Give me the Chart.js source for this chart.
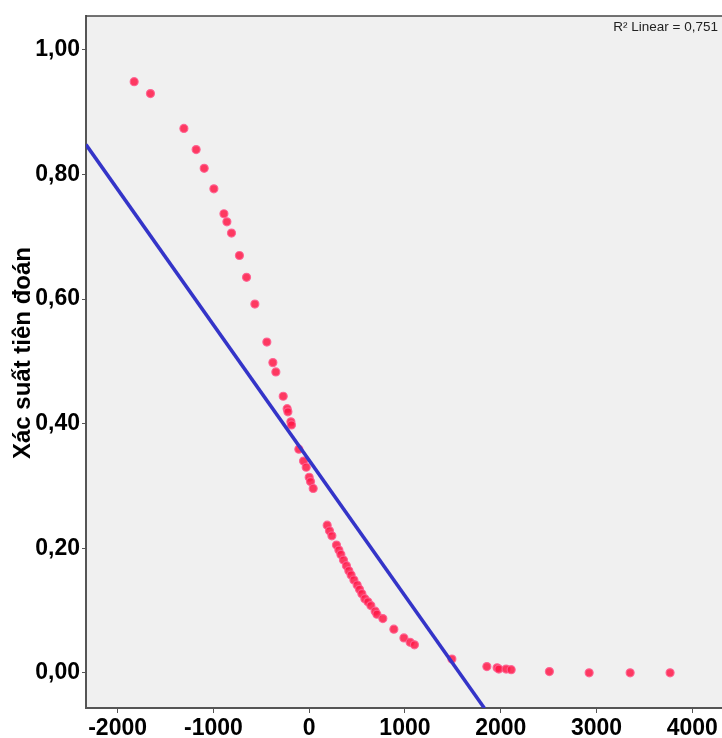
<!DOCTYPE html>
<html>
<head>
<meta charset="utf-8">
<script src="https://cdn.jsdelivr.net/npm/chart.js@4"></script>
<style>
  html, body { margin: 0; padding: 0; background: #fff; overflow: hidden; }
  #wrap { width: 722px; height: 738px; }
  canvas { display: block; }
</style>
</head>
<body>
<div id="wrap"><canvas id="prob-chart" width="722" height="738"></canvas></div>
<script>
// Tick labels
const xTicks = [-2000, -1000, 0, 1000, 2000, 3000, 4000];
const yTicks = [0, 0.2, 0.4, 0.6, 0.8, 1.0];

const probX = [-1827, -1657, -1308, -1180, -1096, -995, -890, -859, -811, -728,
    -654, -567, -442, -379, -348, -271, -230, -222, -191, -185,
    -108, -59, -31, 0, 14, 42, 188, 212, 237, 285,
    310, 331, 358, 389, 414, 438, 467, 501, 525, 550,
    581, 613, 644, 689, 707, 769, 884, 989, 1054, 1099,
    1490, 1855, 1962, 1980, 2056, 2109, 2508, 2923, 3351, 3768];
const probY = [0.949, 0.930, 0.874, 0.840, 0.810, 0.777, 0.737, 0.724, 0.706, 0.670,
    0.635, 0.592, 0.531, 0.498, 0.483, 0.444, 0.424, 0.419, 0.403, 0.398,
    0.359, 0.340, 0.330, 0.314, 0.307, 0.296, 0.237, 0.228, 0.220, 0.205,
    0.197, 0.190, 0.181, 0.172, 0.164, 0.157, 0.149, 0.141, 0.134, 0.127,
    0.119, 0.114, 0.108, 0.099, 0.094, 0.087, 0.070, 0.056, 0.049, 0.045,
    0.022, 0.010, 0.008, 0.006, 0.006, 0.005, 0.002, 0.000, 0.000, 0.000];

// Linear fit line end points
const fitX = [-2330, 1830];
const fitY = [0.848, -0.057];

const axisFont = { family: 'Arial, "Liberation Sans"', size: 23, weight: 'bold' };

// plot background, top frame line, R2 note and the y title
const decor = {
    id: 'decor',
    beforeDraw(chart) {
        const { ctx, chartArea: a } = chart;
        ctx.save();
        ctx.fillStyle = '#f0f0f0';
        ctx.fillRect(a.left, a.top, a.right - a.left, a.bottom - a.top);
        ctx.restore();
    },
    afterDraw(chart) {
        const { ctx, chartArea: a } = chart;
        ctx.save();
        ctx.strokeStyle = '#444';
        ctx.lineWidth = 1.5;
        ctx.beginPath();
        ctx.moveTo(a.left, a.top);
        ctx.lineTo(a.right, a.top);
        ctx.stroke();

        ctx.fillStyle = '#222';
        ctx.font = '13.5px Arial, "Liberation Sans"';
        ctx.textAlign = 'right';
        ctx.textBaseline = 'middle';
        ctx.fillText('R\u00B2 Linear = 0,751', 718, 27);

        ctx.translate(23, 353);
        ctx.rotate(-Math.PI / 2);
        ctx.textAlign = 'center';
        ctx.fillStyle = '#000';
        ctx.font = 'bold 24px Arial, "Liberation Sans"';
        ctx.fillText('Xác suất tiên đoán', 0, 0);
        ctx.restore();
    }
};

const ctx = document.getElementById('prob-chart').getContext('2d');
new Chart(ctx, {
    type: 'scatter',
    data: {
        datasets: [{
            type: 'line',
            data: fitX.map((x, i) => ({ x: x, y: fitY[i] })),
            borderColor: '#3434c8',
            borderWidth: 3.5,
            pointRadius: 0,
            fill: false,
            order: 0
        }, {
            data: probX.map((x, i) => ({ x: x, y: probY[i] })),
            pointRadius: 4,
            pointBackgroundColor: 'rgba(255, 25, 70, 0.85)',
            pointBorderColor: 'rgba(255, 95, 145, 0.9)',
            pointBorderWidth: 1.2,
            order: 1
        }]
    },
    options: {
        responsive: false,
        animation: false,
        layout: { autoPadding: false, padding: { top: 16, right: 0, left: 0, bottom: 0 } },
        plugins: {
            legend: { display: false },
            tooltip: { enabled: false }
        },
        scales: {
            x: {
                type: 'linear',
                min: -2330,
                max: 4310,
                afterBuildTicks: s => { s.ticks = xTicks.map(v => ({ value: v })); },
                afterFit: s => { s.height = 30; s.paddingRight = 0; },
                grid: { drawOnChartArea: false, drawTicks: true, tickLength: 5, color: '#555' },
                border: { display: true, color: '#555', width: 2 },
                ticks: {
                    font: axisFont,
                    color: '#000',
                    padding: 2,
                    maxRotation: 0,
                    callback: v => String(v)
                }
            },
            y: {
                type: 'linear',
                min: -0.0565,
                max: 1.0545,
                afterBuildTicks: s => { s.ticks = yTicks.map(v => ({ value: v })); },
                afterFit: s => { s.width = 86; },
                grid: { drawOnChartArea: false, drawTicks: true, tickLength: 4, color: '#555' },
                border: { display: true, color: '#555', width: 2 },
                ticks: {
                    font: axisFont,
                    color: '#000',
                    padding: 2,
                    callback: v => v.toFixed(2).replace('.', ',')
                }
            }
        }
    },
    plugins: [decor]
});
</script>
</body>
</html>
